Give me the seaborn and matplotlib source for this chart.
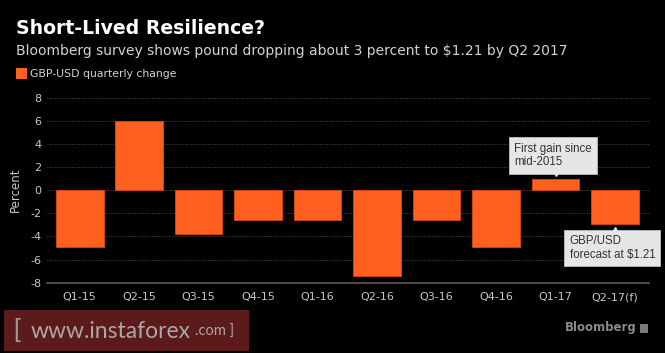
import matplotlib
matplotlib.use("Agg")
import matplotlib.pyplot as plt
import matplotlib.transforms as mtransforms
from matplotlib.patches import Rectangle
import seaborn as sns
import pandas as pd

categories = ["Q1-15", "Q2-15", "Q3-15", "Q4-15", "Q1-16",
              "Q2-16", "Q3-16", "Q4-16", "Q1-17", "Q2-17(f)"]
changes = [-4.9, 6.0, -3.8, -2.6, -2.55, -7.4, -2.58, -4.95, 0.93, -2.9]
y_ticks = [-8, -6, -4, -2, 0, 2, 4, 6, 8]

title = "Short-Lived Resilience?"
subtitle = "Bloomberg survey shows pound dropping about 3 percent to $1.21 by Q2 2017"
legend_label = "GBP-USD quarterly change"
note_gain = "First gain since\nmid-2015"
note_forecast = "GBP/USD\nforecast at $1.21"

BG = "#000000"
ORANGE = "#ff5f1f"
TICKC = "#c8c8c8"

sns.set_theme(style="dark")
plt.rcParams["font.family"] = ["DejaVu Sans"]

df = pd.DataFrame({"quarter": categories, "change": changes})

fig = plt.figure(figsize=(6.65, 3.53), dpi=100, facecolor=BG)
ax = fig.add_axes([47 / 665, 1 - 282.7 / 353, 602 / 665, (282.7 - 97.7) / 353])
ax.set_facecolor(BG)

sns.barplot(data=df, x="quarter", y="change", color=ORANGE, width=0.8,
            saturation=1, edgecolor="#d9480f", linewidth=0.6, ax=ax, zorder=3)

ax.set_ylim(-8, 8)
ax.set_xlim(-0.55, 9.57)
ax.set_yticks(y_ticks)
ax.set_yticklabels([str(v) for v in y_ticks])
for v in y_ticks[1:]:
    ax.axhline(v, color="#4a4a4a", lw=0.7, ls=(0, (1, 1.5)), zorder=1)

for s in ["top", "right", "left"]:
    ax.spines[s].set_visible(False)
ax.spines["bottom"].set_color("#5a5a5a")
ax.spines["bottom"].set_linewidth(1.2)
ax.grid(False)
ax.tick_params(axis="x", colors="#5a5a5a", length=3, width=0.8, direction="out",
               labelcolor=TICKC, labelsize=8, pad=4)
ax.tick_params(axis="y", length=0, labelcolor=TICKC, labelsize=8, pad=4)
ax.set_xlabel("")
ax.set_ylabel("Percent", color=TICKC, fontsize=8.5, labelpad=6)

# titles & legend
fig.text(16 / 665, 1 - 34.5 / 353, title, color="white", fontsize=13.6,
         fontweight="bold", va="baseline", ha="left")
fig.text(16 / 665, 1 - 54.5 / 353, subtitle, color="#d2d2d2", fontsize=10,
         va="baseline", ha="left")
fig.patches.append(Rectangle((16 / 665, 1 - 79 / 353), 11 / 665, 11 / 353,
                             transform=fig.transFigure, facecolor=ORANGE,
                             edgecolor="none"))
fig.text(30 / 665, 1 - 74 / 353, legend_label, color="#d2d2d2", fontsize=7.8,
         va="center", ha="left")

# annotations
box = dict(boxstyle="square,pad=0.45", facecolor="#e6e6e6", edgecolor="#bdbdbd", lw=0.6)
i_gain = categories.index("Q1-17")
i_fc = categories.index("Q2-17(f)")
ax.annotate(note_gain, xy=(i_gain, changes[i_gain]), xytext=(-2, 8),
            textcoords="offset points", ha="center", va="bottom",
            multialignment="left", fontsize=8.3, color="#333333",
            family="Liberation Sans", bbox=box, zorder=6, annotation_clip=False)
ax.annotate(note_forecast, xy=(i_fc, changes[i_fc]), xytext=(-2, -8),
            textcoords="offset points", ha="center", va="top",
            multialignment="left", fontsize=8.3, color="#333333",
            family="Liberation Sans", bbox=box, zorder=6, annotation_clip=False)
# small pointers
tr_down = mtransforms.offset_copy(ax.transData, fig=fig, x=0, y=4.5, units="points")
ax.plot([i_gain], [changes[i_gain]], marker="v", ms=4, color="#e6e6e6",
        transform=tr_down, zorder=7, clip_on=False)
tr_up = mtransforms.offset_copy(ax.transData, fig=fig, x=0, y=-4.5, units="points")
ax.plot([i_fc], [changes[i_fc]], marker="^", ms=4, color="#e6e6e6",
        transform=tr_up, zorder=7, clip_on=False)

# footer
fig.patches.append(Rectangle((4 / 665, 1 - 351 / 353), 245 / 665, 41 / 353,
                             transform=fig.transFigure, facecolor="#5c1a1a",
                             edgecolor="none"))
fig.text(13 / 665, 1 - 330 / 353, "[", color="#9a9a9a", fontsize=18,
         va="center", ha="left", family="Liberation Sans")
fig.text(191 / 665, 1 - 331 / 353, "www.instaforex", color="#a8a8a8", fontsize=16.5,
         va="center", ha="right", family="Lato")
fig.text(234 / 665, 1 - 332 / 353, ".com ]", color="#a8a8a8", fontsize=10.5,
         va="center", ha="right", family="Lato")
fig.text(637 / 665, 1 - 328 / 353, "Bloomberg", color="#8a8a8a", fontsize=8.5,
         fontweight="bold", va="center", ha="right")
fig.patches.append(Rectangle((640 / 665, 1 - 333 / 353), 8 / 665, 9 / 353,
                             transform=fig.transFigure, facecolor="#7a7a7a",
                             edgecolor="none"))

fig.savefig("out.png", dpi=100, facecolor=BG)
